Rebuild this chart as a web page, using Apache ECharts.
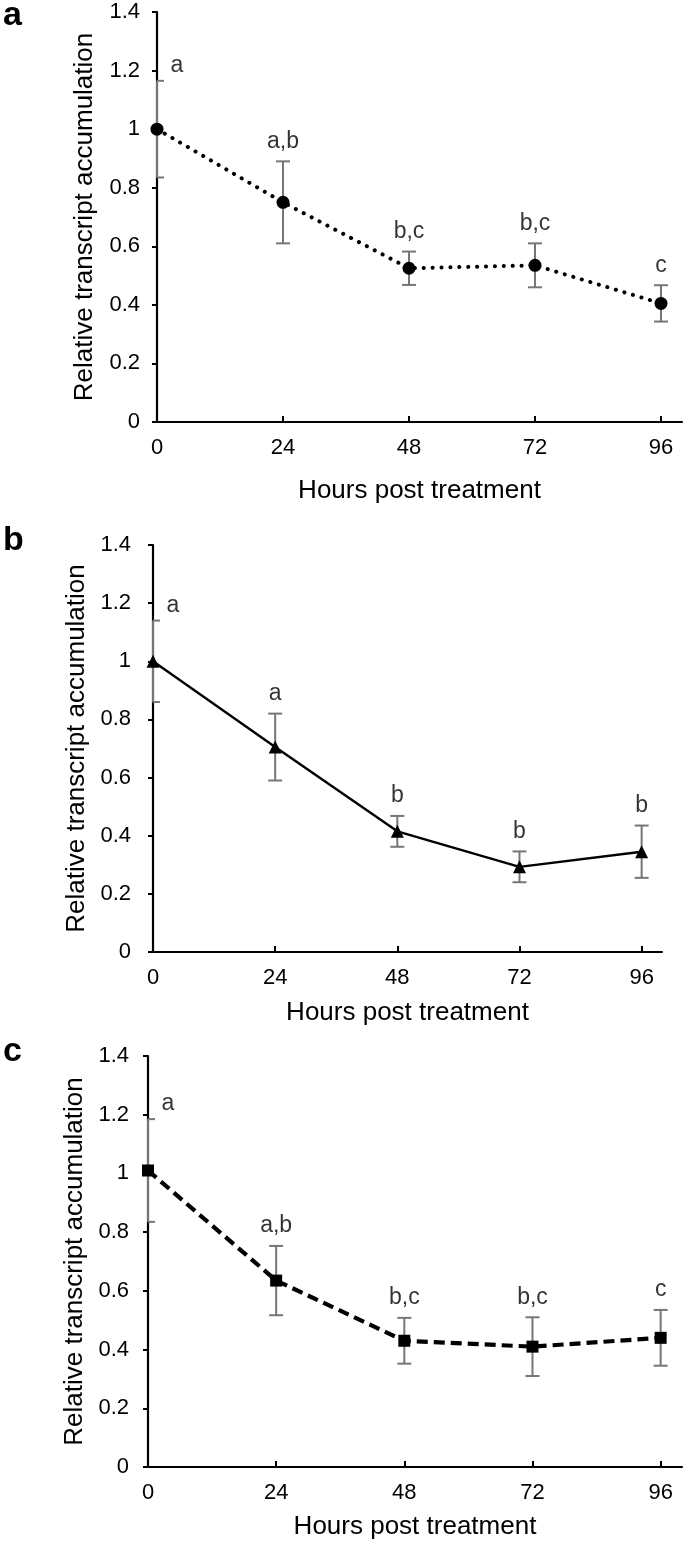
<!DOCTYPE html>
<html>
<head>
<meta charset="utf-8">
<script src="https://cdn.jsdelivr.net/npm/echarts@6/dist/echarts.min.js"></script>
<style>
html,body{margin:0;padding:0;background:#fff;}
#chart{width:685px;height:1541px;}
</style>
</head>
<body>
<div id="chart"></div>
<script>
// ---- data ----
const hours = [0, 24, 48, 72, 96];
const xTickLabels = [0, 24, 48, 72, 96];
const yTicks = [0, 0.2, 0.4, 0.6, 0.8, 1, 1.2, 1.4];

const meanA = [1.0, 0.75, 0.525, 0.535, 0.405];
const errA  = [0.165, 0.14, 0.057, 0.075, 0.062];
const letA  = ['a', 'a,b', 'b,c', 'b,c', 'c'];

const meanB = [1.0, 0.705, 0.415, 0.293, 0.345];
const errB  = [0.14, 0.115, 0.053, 0.053, 0.09];
const letB  = ['a', 'a', 'b', 'b', 'b'];

const meanC = [1.01, 0.635, 0.43, 0.41, 0.44];
const errC  = [0.175, 0.118, 0.078, 0.1, 0.095];
const letC  = ['a', 'a,b', 'b,c', 'b,c', 'c'];

const xTitle = 'Hours post treatment';
const yTitle = 'Relative transcript accumulation';
const panelLetters = ['a', 'b', 'c'];

// ---- styling / layout ----
const FONT = "'Liberation Sans', Arial, sans-serif";
const ERR_COLOR = '#767676';
const grids = [
  {left: 157, top: 12, width: 525, height: 410},
  {left: 153, top: 545, width: 509, height: 407},
  {left: 148, top: 1056, width: 534, height: 411}
];
const xNameGaps = [56, 48, 47];
const yNameGaps = [59, 57, 52];
const yLabelMargins = [17, 22, 19];
const panelLetterY = [16, 541, 1052];

const panels = [
  {mean: meanA, err: errA, letters: letA, symbol: 'circle', symbolSize: 13,
   line: {width: 4, type: [0.1, 8.8], cap: 'round'}},
  {mean: meanB, err: errB, letters: letB, symbol: 'triangle', symbolSize: 13,
   line: {width: 2.4, type: 'solid', cap: 'butt'}},
  {mean: meanC, err: errC, letters: letC, symbol: 'rect', symbolSize: 12,
   line: {width: 4.2, type: [11, 6], cap: 'butt'}}
];

function errRender(params, api) {
  const x = api.value(0), lo = api.value(1), hi = api.value(2);
  const pHi = api.coord([x, hi]);
  const pLo = api.coord([x, lo]);
  const cs = params.coordSys;
  const w = 7;
  const left = Math.max(pHi[0] - w, cs.x);
  const style = {stroke: ERR_COLOR, lineWidth: 2};
  return {
    type: 'group',
    children: [
      {type: 'line', shape: {x1: pHi[0], y1: pHi[1], x2: pLo[0], y2: pLo[1]}, style: style},
      {type: 'line', shape: {x1: left, y1: pHi[1], x2: pHi[0] + w, y2: pHi[1]}, style: style},
      {type: 'line', shape: {x1: left, y1: pLo[1], x2: pLo[0] + w, y2: pLo[1]}, style: style}
    ]
  };
}

const option = {
  animation: false,
  backgroundColor: '#fff',
  textStyle: {fontFamily: FONT},
  grid: grids,
  xAxis: grids.map((g, i) => ({
    type: 'value', gridIndex: i, min: 0, max: 100, interval: 24,
    name: xTitle, nameLocation: 'middle', nameGap: xNameGaps[i],
    nameTextStyle: {fontSize: 26, color: '#000', fontFamily: FONT},
    axisLine: {show: true, lineStyle: {color: '#000', width: 2.2}},
    axisTick: {show: true, inside: true, length: 6, customValues: xTickLabels,
               lineStyle: {color: '#000', width: 2}},
    axisLabel: {show: true, customValues: xTickLabels, margin: 15,
                fontSize: 22, color: '#000', fontFamily: FONT},
    splitLine: {show: false}
  })),
  yAxis: grids.map((g, i) => ({
    type: 'value', gridIndex: i, min: 0, max: 1.4, interval: 0.2,
    name: yTitle, nameLocation: 'middle', nameGap: yNameGaps[i],
    nameTextStyle: {fontSize: 26, color: '#000', fontFamily: FONT},
    axisLine: {show: true, lineStyle: {color: '#000', width: 2.2}},
    axisTick: {show: true, inside: false, length: 5, lineStyle: {color: '#000', width: 2}},
    axisLabel: {show: true, margin: yLabelMargins[i], fontSize: 22, color: '#000', fontFamily: FONT},
    splitLine: {show: false}
  })),
  graphic: panelLetters.map((t, i) => ({
    type: 'text', x: 3, y: panelLetterY[i],
    style: {text: t, font: 'bold 34px ' + FONT, fill: '#000', verticalAlign: 'middle', align: 'left'}
  })),
  series: []
};

panels.forEach((p, i) => {
  // error bars
  option.series.push({
    type: 'custom', xAxisIndex: i, yAxisIndex: i, silent: true, z: 2,
    renderItem: errRender, clip: false,
    data: hours.map((h, k) => [h, p.mean[k] - p.err[k], p.mean[k] + p.err[k]])
  });
  // mean line with markers
  option.series.push({
    type: 'line', xAxisIndex: i, yAxisIndex: i, silent: true, z: 3,
    symbol: p.symbol, symbolSize: p.symbolSize, showSymbol: true,
    itemStyle: {color: '#000', borderWidth: 0},
    lineStyle: {color: '#000', width: p.line.width, type: p.line.type, cap: p.line.cap},
    data: hours.map((h, k) => [h, p.mean[k]])
  });
  // significance letters above error bars
  option.series.push({
    type: 'scatter', xAxisIndex: i, yAxisIndex: i, silent: true, z: 4,
    symbolSize: 1, itemStyle: {color: 'rgba(0,0,0,0)'},
    label: {
      show: true, position: 'top', distance: 8, fontSize: 23, color: '#000',
      fontFamily: FONT, textBorderWidth: 0,
      formatter: (prm) => p.letters[prm.dataIndex]
    },
    data: hours.map((h, k) => ({
      value: [h, p.mean[k] + p.err[k]],
      label: h === 0 ? {offset: [20, 5]} : {}
    }))
  });
});

const chart = echarts.init(document.getElementById('chart'), null, {renderer: 'canvas'});
chart.setOption(option);
</script>
</body>
</html>
